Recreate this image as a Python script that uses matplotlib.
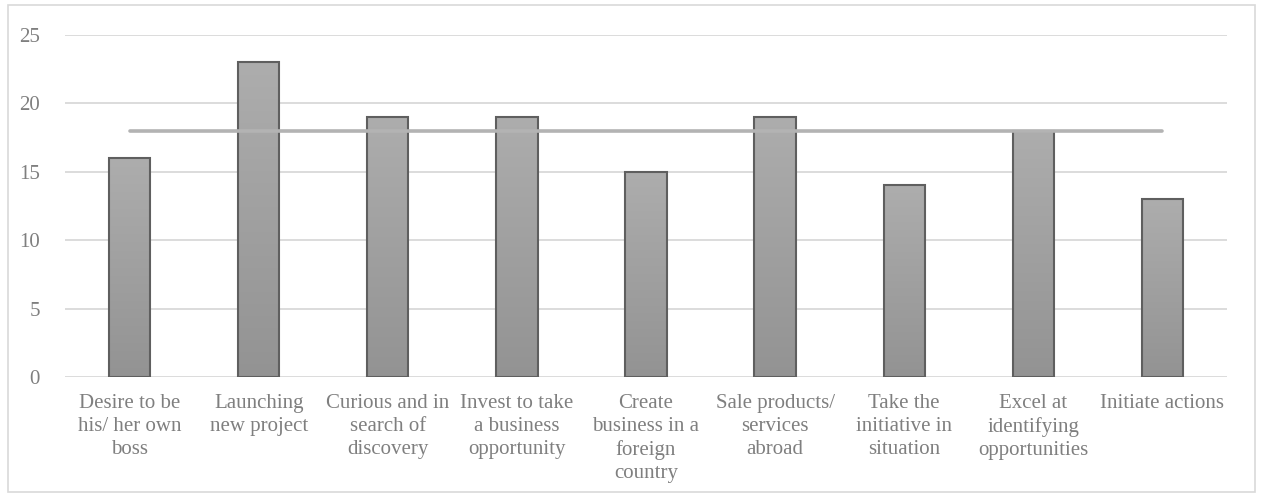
import numpy as np
import matplotlib
matplotlib.use("Agg")
from matplotlib import pyplot as plt
from matplotlib.patches import Rectangle
from matplotlib.colors import LinearSegmentedColormap

categories = ["Desire to be\nhis/ her own\nboss", "Launching\nnew project",
              "Curious and in\nsearch of\ndiscovery", "Invest to take\na business\nopportunity",
              "Create\nbusiness in a\nforeign\ncountry", "Sale products/\nservices\nabroad",
              "Take the\ninitiative in\nsituation", "Excel at\nidentifying\nopportunities",
              "Initiate actions"]
values = [16, 23, 19, 19, 15, 19, 14, 18, 13]
average = [18] * len(values)
yticks = [0, 5, 10, 15, 20, 25]

plt.rcParams['font.family'] = ['Liberation Serif', 'DejaVu Serif']
txt_c = '#7f7f7f'

fig = plt.figure(figsize=(12.62, 4.97), dpi=100)
fig.patches.append(Rectangle((8 / 1262, 5 / 497), 1247 / 1262, 487 / 497, transform=fig.transFigure,
                             fill=False, ec='#d9d9d9', lw=1.2))
ax = fig.add_axes([65 / 1262, 1 - 377 / 497, 1162 / 1262, 342 / 497])

x = np.arange(len(values))
bars = ax.bar(x, values, width=0.32, color='none', edgecolor='#5f5f5f', lw=1.5, zorder=3)

# vertical gradient fill, light on top, darker at the bottom
grad = np.linspace(0, 1, 256).reshape(-1, 1)
cmap = LinearSegmentedColormap.from_list('g', ['#939393', '#adadad'])
for b in bars:
    bx, by, bw, bh = b.get_x(), b.get_y(), b.get_width(), b.get_height()
    im = ax.imshow(grad, extent=[bx, bx + bw, by, by + bh], origin='lower', aspect='auto',
                   cmap=cmap, zorder=2)
    im.set_clip_path(b)

ax.plot(x, average, color='#b3b3b3', lw=2.6, solid_capstyle='round', zorder=4)

ax.set_xlim(-0.5, len(values) - 0.5)
ax.set_ylim(0, 25)
ax.set_yticks(yticks)
ax.set_xticks(x)
ax.set_xticklabels(categories, fontsize=15, color=txt_c, linespacing=1.3, va='top')
ax.tick_params(axis='y', length=0, pad=18, labelsize=15, labelcolor=txt_c)
ax.tick_params(axis='x', length=0, pad=12)
ax.grid(axis='y', color='#d9d9d9', lw=1.3, zorder=0)
for s in ax.spines.values():
    s.set_visible(False)

fig.savefig('out.png', dpi=100)
